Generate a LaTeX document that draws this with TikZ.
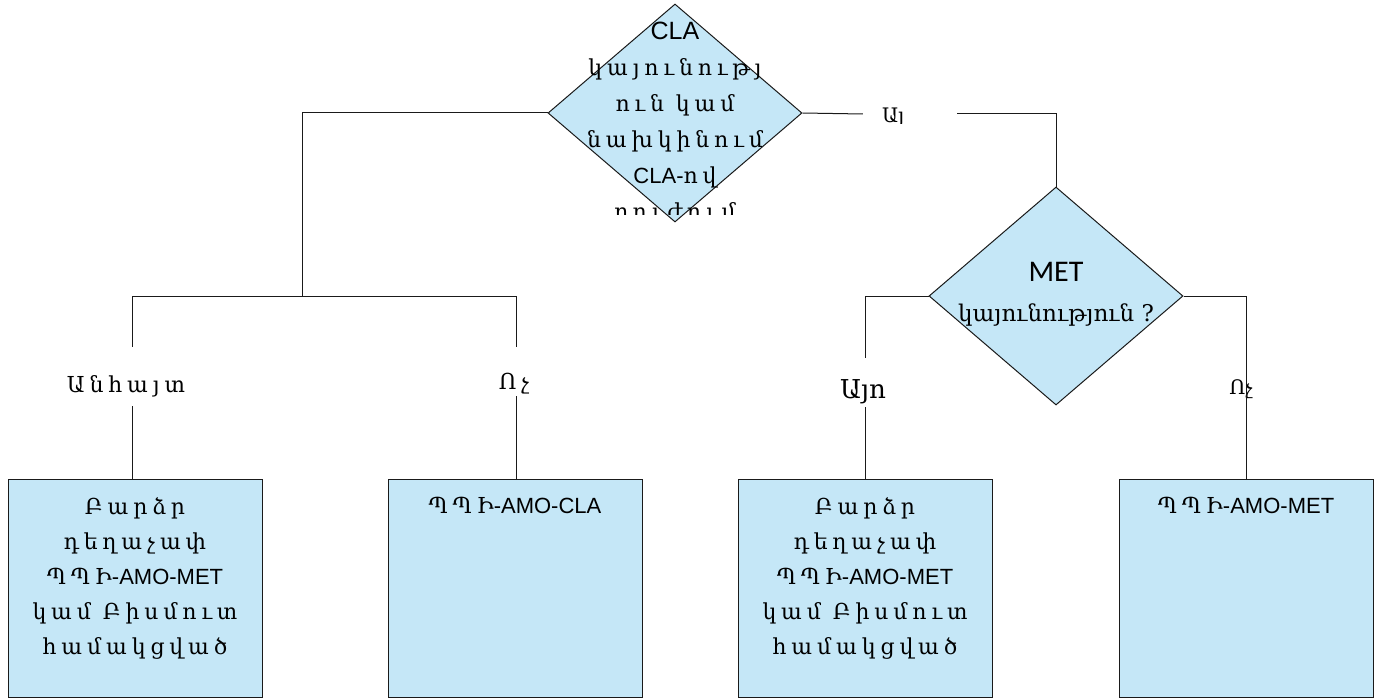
\documentclass[tikz,border=0pt]{standalone}
\usepackage{fontspec}
\setmainfont{Liberation Sans}
\newfontfamily\armfont{DejaVu Serif}
\newfontfamily\armspaced[LetterSpace=22]{DejaVu Serif}
\newfontfamily\calfont{Carlito}
\usetikzlibrary{shapes.geometric}
\definecolor{boxfill}{HTML}{C5E7F7}
\definecolor{edge}{HTML}{1A1A1A}

\tikzset{
  decision/.style={diamond, draw=edge, fill=boxfill, line width=1pt, inner sep=0pt,
    minimum width=254pt, minimum height=218pt},
  outcome/.style={rectangle, draw=edge, fill=boxfill, line width=1pt, inner sep=0pt,
    minimum width=254pt, minimum height=218pt},
  link/.style={draw=edge, line width=1pt},
  branchlbl/.style={inner sep=0pt, font=\armspaced\fontsize{22}{26}\selectfont},
  boxtext/.style={inner sep=0pt, align=center, anchor=north,
    font=\armspaced\fontsize{22}{35}\selectfont},
}

\begin{document}
\begin{tikzpicture}[x=1pt,y=-1pt]
\useasboundingbox (0,0) rectangle (1380,698);

% decisions
\node[decision] (d1) at (675,113) {};
\node[decision] (d2) at (1056,296) {};

% outcomes
\node[outcome] (box1) at (135,588) {};
\node[outcome] (box2) at (515,588) {};
\node[outcome] (box3) at (865,588) {};
\node[outcome] (box4) at (1246,588) {};

% branch points
\coordinate (jL) at (302,296);
\coordinate (bL) at (132,296);
\coordinate (bR) at (516,296);

% decision texts
\begin{scope}
  \clip (540,0) rectangle (810,214);
  \node[inner sep=0pt, align=center, anchor=north,
        font=\armspaced\fontsize{22}{36}\selectfont] (t1) at (675,22)
    {{\rmfamily\fontsize{25}{36}\selectfont CLA}\\ կայունությ\\ ուն կամ\\ նախկինում\\ {\rmfamily CLA-}ով\\ բուժում};
\end{scope}
\node[inner sep=0pt, align=center, anchor=north,
      font=\armfont\fontsize{23}{40}\selectfont] (t2) at (1056,262)
  {{\calfont\fontsize{30}{40}\selectfont MET}\\ կայունություն ?};

% outcome texts
\node[boxtext] (t3) at (135,497) {Բարձր\\ դեղաչափ\\ ՊՊԻ{\rmfamily -AMO-MET}\\ կամ Բիսմուտ\\ համակցված};
\node[boxtext] (t4) at (515,497) {ՊՊԻ{\rmfamily -AMO-CLA}};
\node[boxtext] (t5) at (865,497) {Բարձր\\ դեղաչափ\\ ՊՊԻ{\rmfamily -AMO-MET}\\ կամ Բիսմուտ\\ համակցված};
\node[boxtext] (t6) at (1246,497) {ՊՊԻ{\rmfamily -AMO-MET}};

% branch labels
\node[branchlbl, text height=31pt, text depth=0pt, minimum height=59pt] (lUnk) at (126,376.5) {Անհայտ};
\node[branchlbl, text height=35pt, text depth=0pt, minimum height=49pt] (lNoL) at (514,371.5) {Ոչ};
\node[branchlbl, font=\armfont\fontsize{26}{30}\selectfont, text height=31pt, text depth=0pt,
      minimum height=49pt] (lYesR) at (863,382.5) {Այո};
\node[branchlbl, font=\armfont\fontsize{20}{24}\selectfont, anchor=base] (lNoR) at (1241,394) {Ոչ};
\begin{scope}
  \clip (850,90) rectangle (970,123.5);
  \node[inner sep=0pt, text width=94pt, align=left, text height=18pt, text depth=0pt,
        font=\armfont\fontsize{20}{24}\selectfont] (lYesT) at (910,114) {\hspace*{19pt}Այ};
\end{scope}

% connectors
\draw[link] (d1.west) -| (jL);
\draw[link] (bL) -- (bR);
\draw[link] (bL) -- (bL |- lUnk.north);
\draw[link] (bL |- lUnk.south) -- (bL |- box1.north);
\draw[link] (bR) -- (bR |- lNoL.north);
\draw[link] (bR |- lNoL.south) -- (bR |- box2.north);
\draw[link] (d1.east) -- (lYesT.west);
\draw[link] (lYesT.east) -| (d2.north);
\draw[link] (d2.west) -| (lYesR.north -| box3.north);
\draw[link] (lYesR.south -| box3.north) -- (box3.north);
\draw[link] (d2.east) -| (box4.north);
\end{tikzpicture}
\end{document}
